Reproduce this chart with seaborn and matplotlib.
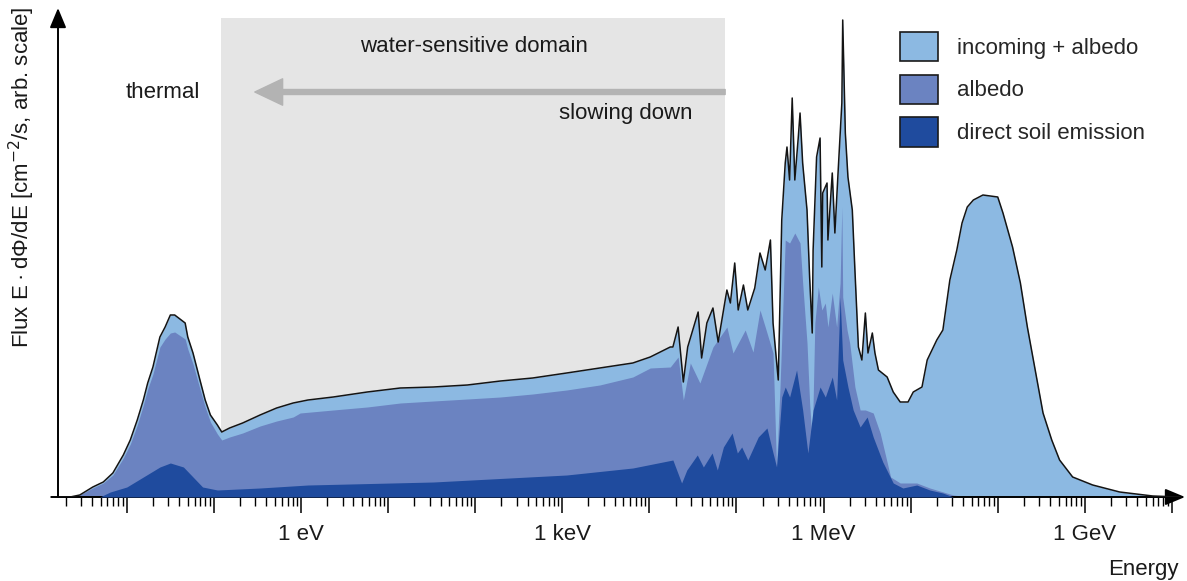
import numpy as np
import pandas as pd
import matplotlib
matplotlib.use("Agg")
import matplotlib.pyplot as plt
import seaborn as sns
from matplotlib.ticker import LogLocator, NullFormatter
from matplotlib.patches import Patch

# ---------------- data (energy as log10(E / eV), flux in arbitrary units) ----------------
total_log10_e = [-2.77, -2.65, -2.54, -2.39, -2.27, -2.16, -2.04, -1.96, -1.88, -1.81, -1.76, -1.70,
                 -1.62, -1.56, -1.50, -1.45, -1.33, -1.30, -1.24, -1.16, -1.10, -1.04, -0.96, -0.91,
                 -0.82, -0.67, -0.47, -0.28, -0.09, 0.08, 0.37, 0.76, 1.14, 1.52, 1.91, 2.29, 2.66,
                 3.05, 3.43, 3.81, 4.01, 4.24, 4.27, 4.33, 4.39, 4.44, 4.56, 4.60, 4.66, 4.73, 4.79,
                 4.89, 4.93, 4.98, 5.02, 5.08, 5.13, 5.21, 5.27, 5.33, 5.39, 5.42, 5.48, 5.52, 5.56,
                 5.58, 5.61, 5.64, 5.67, 5.71, 5.73, 5.76, 5.81, 5.84, 5.87, 5.88, 5.92, 5.96, 5.98,
                 5.99, 6.04, 6.05, 6.10, 6.13, 6.17, 6.21, 6.22, 6.25, 6.28, 6.33, 6.36, 6.40, 6.44,
                 6.48, 6.51, 6.56, 6.59, 6.63, 6.73, 6.80, 6.88, 6.97, 7.03, 7.13, 7.19, 7.30, 7.37,
                 7.45, 7.53, 7.59, 7.65, 7.72, 7.83, 8.00, 8.06, 8.17, 8.26, 8.34, 8.43, 8.52, 8.62,
                 8.71, 8.86, 9.09, 9.40, 9.78, 10.09]
total_flux = [0, 0, 2, 10, 15, 24, 42, 57, 77, 97, 114, 130,
              160, 170, 182, 182, 174, 160, 144, 117, 97, 82, 72, 65,
              69, 74, 82, 89, 94, 97, 100, 105, 109, 110, 112, 116, 119,
              124, 129, 134, 140, 150, 150, 170, 115, 150, 185, 139, 174, 189, 155,
              207, 194, 234, 187, 212, 187, 209, 244, 227, 257, 174, 117, 277, 334,
              350, 317, 399, 317, 360, 384, 334, 287, 220, 164, 247, 340, 359, 230,
              304, 314, 257, 324, 264, 330, 394, 477, 364, 320, 287, 227, 150, 137,
              184, 144, 164, 144, 127, 120, 105, 95, 95, 105, 110, 137, 157, 167,
              217, 247, 274, 290, 297, 302, 300, 284, 250, 214, 170, 127, 84, 57,
              37, 20, 12, 5, 1, 0]

albedo_log10_e = [-2.77, -2.54, -2.39, -2.27, -2.16, -2.04, -1.96, -1.88, -1.81, -1.76, -1.70, -1.62,
                  -1.56, -1.50, -1.45, -1.33, -1.30, -1.24, -1.16, -1.10, -1.04, -0.96, -0.91, -0.82,
                  -0.67, -0.47, -0.28, -0.09, -0.01, 0.37, 0.76, 1.14, 1.52, 1.91, 2.29, 2.66, 3.05,
                  3.43, 3.81, 4.01, 4.24, 4.33, 4.39, 4.47, 4.58, 4.73, 4.89, 4.96, 5.10, 5.19, 5.27,
                  5.33, 5.42, 5.46, 5.50, 5.56, 5.61, 5.67, 5.73, 5.76, 5.81, 5.84, 5.87, 5.90, 5.94,
                  5.98, 6.02, 6.05, 6.10, 6.15, 6.19, 6.21, 6.22, 6.27, 6.30, 6.36, 6.42, 6.48, 6.57,
                  6.65, 6.77, 6.88, 7.07, 7.22, 7.49, 7.68, 10.09]
albedo_flux = [0, 2, 9, 14, 22, 39, 53, 72, 92, 108, 123, 150,
               158, 164, 165, 158, 148, 133, 108, 90, 75, 63, 57, 60,
               64, 71, 76, 80, 84, 87, 90, 94, 96, 98, 100, 103, 107,
               112, 120, 129, 130, 140, 97, 134, 114, 150, 170, 144, 167, 145, 187,
               170, 144, 30, 110, 257, 254, 264, 254, 214, 154, 94, 54, 174, 210,
               187, 194, 170, 204, 170, 214, 290, 200, 167, 154, 110, 87, 87, 84,
               64, 20, 14, 14, 9, 2, 0, 0]

direct_log10_e = [-2.77, -2.31, -2.19, -2.00, -1.81, -1.62, -1.50, -1.35, -1.24, -1.13, -0.96, -0.47,
                  0.08, 1.52, 3.05, 3.81, 4.27, 4.37, 4.43, 4.55, 4.62, 4.72, 4.78, 4.85, 4.95, 5.01,
                  5.06, 5.13, 5.25, 5.35, 5.42, 5.46, 5.52, 5.56, 5.61, 5.69, 5.76, 5.82, 5.88, 5.96,
                  6.02, 6.10, 6.15, 6.19, 6.22, 6.28, 6.34, 6.42, 6.50, 6.57, 6.68, 6.80, 6.91, 7.07,
                  7.22, 7.37, 7.49, 10.09]
direct_flux = [0, 0, 5, 10, 20, 30, 34, 30, 20, 10, 7, 9,
               12, 15, 22, 29, 37, 14, 27, 42, 30, 44, 27, 50, 64, 44,
               50, 37, 60, 69, 44, 30, 100, 110, 100, 127, 87, 44, 87, 110,
               100, 120, 97, 200, 137, 110, 87, 70, 80, 60, 35, 14, 9, 12,
               7, 4, 0, 0]

tick_energies = [1, 1e3, 1e6, 1e9]
tick_labels = ["1 eV", "1 keV", "1 MeV", "1 GeV"]
series_names = ["incoming + albedo", "albedo", "direct soil emission"]
series_colors = ["#8cb9e2", "#6b83c1", "#1f4b9e"]

# domain of the shaded band (log10 eV) and the slowing-down arrow
domain_log10 = (-0.92, 4.87)
arrow_tip_log10 = -0.53

# ---------------- figure ----------------
sns.set_theme(style="white")
plt.rcParams["font.family"] = ["Liberation Sans", "DejaVu Sans"]

W, H = 1187, 581
fig = plt.figure(figsize=(W / 100, H / 100), dpi=100)
ax = fig.add_axes([58 / W, (H - 497) / H, (1185 - 58) / W, (497 - 8) / H])
ax.set_xscale("log")

df_total = pd.DataFrame({"E": np.power(10.0, total_log10_e), "flux": total_flux})
df_alb = pd.DataFrame({"E": np.power(10.0, albedo_log10_e), "flux": albedo_flux})
df_dir = pd.DataFrame({"E": np.power(10.0, direct_log10_e), "flux": direct_flux})

ymax = 489
ax.axvspan(10 ** domain_log10[0], 10 ** domain_log10[1], ymin=0, ymax=(497 - 18) / ymax,
           color="#e5e5e5", lw=0, zorder=0)

ax.fill_between(df_total["E"], df_total["flux"], color=series_colors[0], lw=0, zorder=2)
ax.fill_between(df_alb["E"], df_alb["flux"], color=series_colors[1], lw=0, zorder=3)
ax.fill_between(df_dir["E"], df_dir["flux"], color=series_colors[2], lw=0, zorder=4)
sns.lineplot(data=df_total, x="E", y="flux", color="#141414", lw=1.1, ax=ax,
             sort=False, estimator=None, zorder=5)

# arrow "slowing down"
ax.annotate("", xy=(10 ** arrow_tip_log10, 405), xytext=(10 ** domain_log10[1], 405),
            arrowprops=dict(width=3.6, headwidth=19, headlength=20, facecolor="#b3b3b3",
                            edgecolor="#b3b3b3", shrink=0), zorder=1)

ax.set_xlim(10 ** -2.79, 10 ** 10.15)
ax.set_ylim(0, ymax)
ax.set_yticks([])
ax.set_xlabel("")
ax.set_ylabel("")

# ticks
ax.xaxis.set_major_locator(LogLocator(base=10, numticks=30))
ax.xaxis.set_minor_locator(LogLocator(base=10, subs=np.arange(2, 10), numticks=300))
ax.xaxis.set_major_formatter(NullFormatter())
ax.xaxis.set_minor_formatter(NullFormatter())
ax.tick_params(axis="x", which="major", direction="out", length=11.5, width=1.1, color="black",
               bottom=True, labelsize=16, pad=7)
ax.tick_params(axis="x", which="minor", direction="out", length=6.5, width=1.0, color="black",
               bottom=True)
for e, lab in zip(tick_energies, tick_labels):
    ax.text(e, -0.077, lab, transform=ax.get_xaxis_transform(), ha="center", va="center",
            fontsize=16, color="#1a1a1a")

# axes as arrows
for s in ax.spines.values():
    s.set_visible(False)
ax.annotate("", xy=(0, 1.0), xycoords="axes fraction", xytext=(0, 0),
            arrowprops=dict(arrowstyle="-|>,head_length=0.6,head_width=0.25", lw=1.4,
                            color="black", mutation_scale=20, shrinkA=0, shrinkB=0))
ax.annotate("", xy=(1.0, 0), xycoords="axes fraction", xytext=(-0.006, 0),
            arrowprops=dict(arrowstyle="-|>,head_length=0.6,head_width=0.25", lw=1.4,
                            color="black", mutation_scale=20, shrinkA=0, shrinkB=0))

# texts
def ftext(x, y, s, **kw):
    fig.text(x / W, 1 - y / H, s, **kw)

ftext(163, 92, "thermal", ha="center", va="center", fontsize=16, color="#1a1a1a")
ftext(474, 47, "water-sensitive domain", ha="center", va="center", fontsize=16, color="#1a1a1a")
ftext(626, 113, "slowing down", ha="center", va="center", fontsize=16, color="#1a1a1a")
ftext(1143, 569, "Energy", ha="center", va="center", fontsize=16, color="#1a1a1a")
ftext(22, 177, "Flux E\u2009\u00b7\u2009d\u03a6/dE [cm$^{-2}$/s, arb. scale]", ha="center", va="center",
      rotation=90, fontsize=16, color="#1a1a1a")

handles = [Patch(facecolor=c, edgecolor="#1a1a1a", lw=1.2) for c in series_colors]
fig.legend(handles, series_names, loc="upper left", bbox_to_anchor=(900 / W, 1 - 32 / H),
           frameon=False, fontsize=16, handlelength=1.7, handleheight=1.65,
           handletextpad=0.85, labelspacing=0.6, borderpad=0, borderaxespad=0)

fig.savefig("out.png", dpi=100)
